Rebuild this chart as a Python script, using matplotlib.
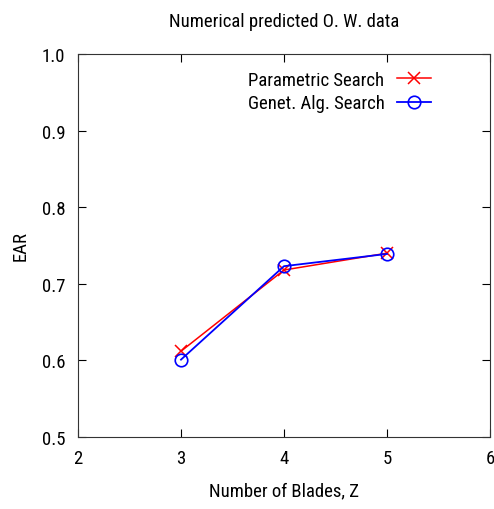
import matplotlib
matplotlib.use("Agg")
import matplotlib.pyplot as plt

plt.rcParams['font.family'] = ['Roboto Condensed', 'Liberation Sans', 'DejaVu Sans']

blades = [3, 4, 5]
ear_parametric = [0.612, 0.718, 0.740]
ear_genetic = [0.601, 0.723, 0.739]

fig = plt.figure(figsize=(4.94, 5.10), dpi=100)
ax = fig.add_axes([78 / 494, 72 / 510, 412 / 494, 383 / 510])

ax.plot(blades, ear_parametric, color='red', linewidth=1.1, marker='x',
        markersize=9, markeredgewidth=1.1, label='Parametric Search')
ax.plot(blades, ear_genetic, color='blue', linewidth=1.3, marker='o',
        markersize=9, markerfacecolor='none', markeredgewidth=1.2,
        label='Genet. Alg. Search')

ax.set_xlim(2, 6)
ax.set_ylim(0.5, 1.0)
ax.set_xticks([2, 3, 4, 5, 6])
ax.set_yticks([0.5, 0.6, 0.7, 0.8, 0.9, 1.0])
ax.set_yticklabels(['0.5', '0.6', '0.7', '0.8', '0.9', '1.0'])
ax.tick_params(direction='in', top=True, right=True, length=5.5, labelsize=13.5, pad=9)
for s in ax.spines.values():
    s.set_color('#333333')

ax.set_xlabel('Number of Blades, Z', fontsize=13.5, labelpad=10)
ax.set_ylabel('EAR', fontsize=13.5, labelpad=9)
ax.set_title('Numerical predicted O. W. data', fontsize=13.5, pad=20)

ax.legend(loc='upper right', bbox_to_anchor=(0.876, 0.976), frameon=False,
          markerfirst=False, fontsize=13.5, handlelength=1.85, handletextpad=0.65,
          borderaxespad=0, labelspacing=0.3)

fig.savefig('out.png', dpi=100)
